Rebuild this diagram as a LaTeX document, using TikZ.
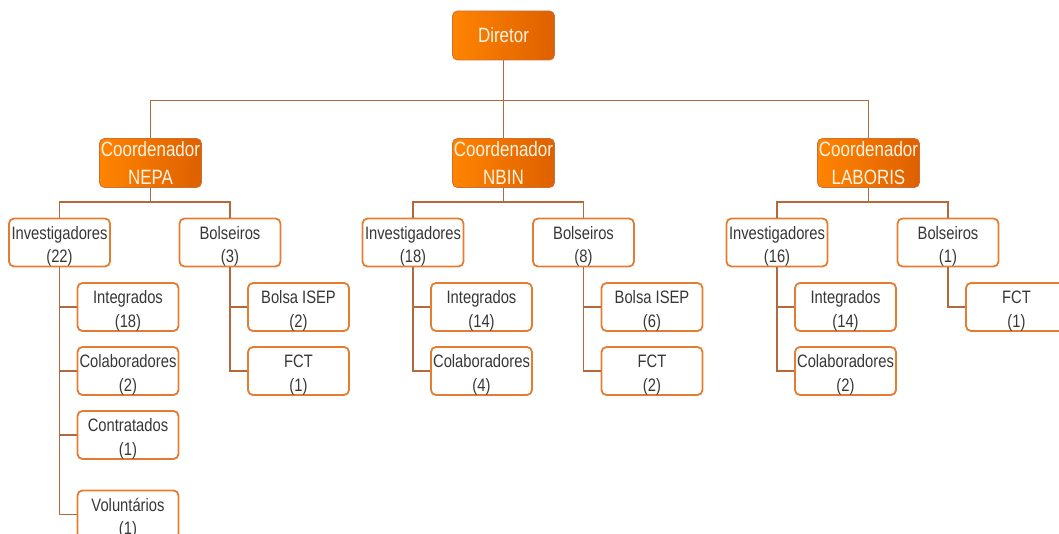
\documentclass[tikz,border=0pt]{standalone}
\usepackage{fontspec}
\setmainfont{Liberation Sans}[FakeStretch=0.82]

\definecolor{linkbrown}{RGB}{180,105,60}
\definecolor{boxedge}{RGB}{228,125,50}
\definecolor{headL}{RGB}{255,132,0}
\definecolor{headR}{RGB}{222,96,0}
\definecolor{headedge}{RGB}{205,110,55}
\definecolor{bodytext}{RGB}{55,55,55}
\definecolor{headtext}{RGB}{255,244,228}

% two-line label with a strut that drops the text a little inside its box
\newcommand\twoline[2]{\rule{0pt}{21pt}#1\\#2}

\begin{document}
\begin{tikzpicture}[x=1pt,y=-1pt,
  headbox/.style={rounded corners=5pt, left color=headL, right color=headR,
    draw=headedge, line width=0.8pt, minimum width=102pt, minimum height=49pt,
    inner sep=0pt, align=center, text=headtext,
    font=\fontsize{20.7}{28}\selectfont},
  unitbox/.style={rounded corners=5pt, fill=white, draw=boxedge, line width=1.8pt,
    minimum width=101pt, minimum height=47.5pt, inner sep=0pt, align=center,
    text=bodytext, font=\fontsize{18}{23.3}\selectfont},
  link/.style={draw=linkbrown, line width=1.5pt}
]
\clip (0,0) rectangle (1059,534);

% top
\node[headbox] (dir) at (503.5,35.5) {Diretor};

% coordinators
\node[headbox] (c1) at (150.5,163) {Coordenador\\NEPA};
\node[headbox] (c2) at (503.5,163) {Coordenador\\NBIN};
\node[headbox] (c3) at (868.5,163) {Coordenador\\LABORIS};

% NEPA
\node[unitbox] (inv1) at (59.5,242.5) {\twoline{Investigadores}{(22)}};
\node[unitbox] (bol1) at (230,242.5) {\twoline{Bolseiros}{(3)}};
\node[unitbox] (int1) at (128,307) {\twoline{Integrados}{(18)}};
\node[unitbox] (col1) at (128,371) {\twoline{Colaboradores}{(2)}};
\node[unitbox] (con1) at (128,435) {\twoline{Contratados}{(1)}};
\node[unitbox] (vol1) at (128,514.5) {\twoline{Voluntários}{(1)}};
\node[unitbox] (bis1) at (298.5,307) {\twoline{Bolsa ISEP}{(2)}};
\node[unitbox] (fct1) at (298.5,371) {\twoline{FCT}{(1)}};

% NBIN
\node[unitbox] (inv2) at (413,242.5) {\twoline{Investigadores}{(18)}};
\node[unitbox] (bol2) at (583.5,242.5) {\twoline{Bolseiros}{(8)}};
\node[unitbox] (int2) at (481.5,307) {\twoline{Integrados}{(14)}};
\node[unitbox] (col2) at (481.5,371) {\twoline{Colaboradores}{(4)}};
\node[unitbox] (bis2) at (652,307) {\twoline{Bolsa ISEP}{(6)}};
\node[unitbox] (fct2) at (652,371) {\twoline{FCT}{(2)}};

% LABORIS
\node[unitbox] (inv3) at (777,242.5) {\twoline{Investigadores}{(16)}};
\node[unitbox] (bol3) at (948,242.5) {\twoline{Bolseiros}{(1)}};
\node[unitbox] (int3) at (845.5,307) {\twoline{Integrados}{(14)}};
\node[unitbox] (col3) at (845.5,371) {\twoline{Colaboradores}{(2)}};
\node[unitbox] (fct3) at (1016.5,307) {\twoline{FCT}{(1)}};

% director to coordinators
\foreach \c in {c1,c2,c3}
  \draw[link] (dir.south) -- ++(0,40) -| (\c.north);

% coordinators to groups
\draw[link] (c1.south) -- ++(0,14) -| (inv1.north);
\draw[link] (c1.south) -- ++(0,14) -| (bol1.north);
\draw[link] (c2.south) -- ++(0,14) -| (inv2.north);
\draw[link] (c2.south) -- ++(0,14) -| (bol2.north);
\draw[link] (c3.south) -- ++(0,14) -| (inv3.north);
\draw[link] (c3.south) -- ++(0,14) -| (bol3.north);

% groups to members
\foreach \p/\k in {inv1/int1, inv1/col1, inv1/con1, inv1/vol1,
                   bol1/bis1, bol1/fct1,
                   inv2/int2, inv2/col2, bol2/bis2, bol2/fct2,
                   inv3/int3, inv3/col3, bol3/fct3}
  \draw[link] (\p.south) |- (\k.west);
\end{tikzpicture}
\end{document}
